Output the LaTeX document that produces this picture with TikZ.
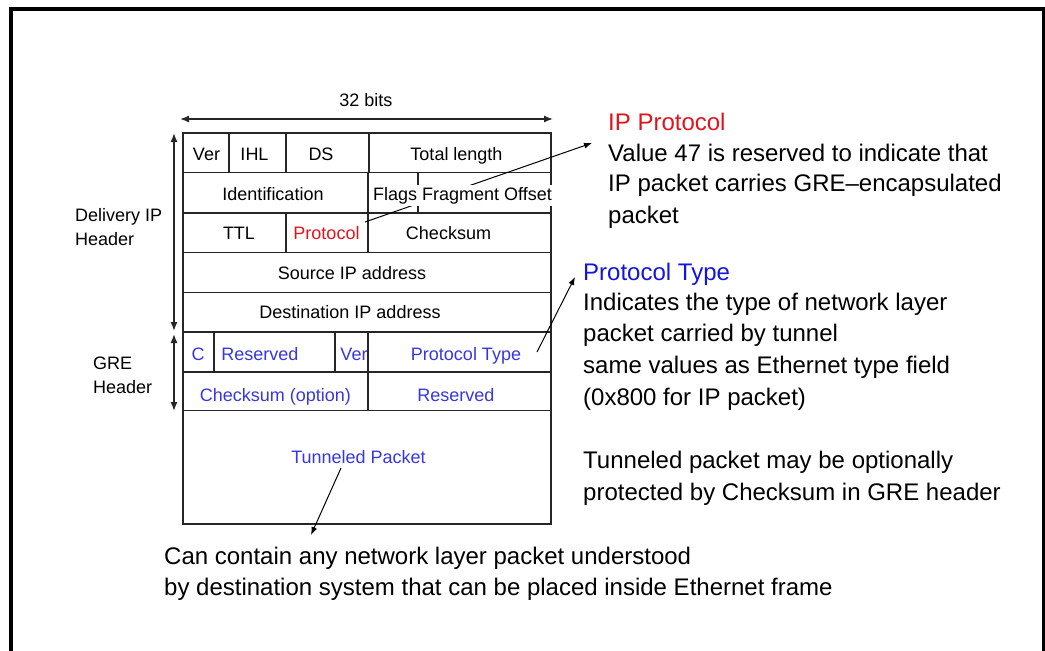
\documentclass[tikz,border=0pt]{standalone}
\usepackage{fontspec}
\setmainfont{Liberation Sans}
\usetikzlibrary{arrows.meta}
\definecolor{fblue}{RGB}{55,55,225}
\definecolor{hblue}{RGB}{20,20,225}
\definecolor{fred}{RGB}{225,20,30}
\begin{document}
\begin{tikzpicture}[x=1pt,y=-1pt,
  cell/.style={font=\fontsize{18}{22}\selectfont, inner sep=0pt, anchor=base},
  lab/.style={font=\fontsize{18}{22}\selectfont, inner sep=0pt, anchor=base west},
  note/.style={font=\fontsize{24}{31}\selectfont, inner sep=0pt, anchor=base west},
  grid/.style={line width=1.3pt, draw=black!85},
  thickgrid/.style={line width=2.6pt, draw=black!85},
  arr/.style={-{Latex[length=8pt,width=6pt]}, line width=1pt},
  darr/.style={{Latex[length=9pt,width=7pt]}-{Latex[length=9pt,width=7pt]}, line width=1.4pt, draw=black!85}]
\useasboundingbox (0,0) rectangle (1045,651);
\fill[white] (0,0) rectangle (1045,651);
% frame
\draw[line width=4.6pt] (10.8,651) -- (10.8,8.8) -- (1045,8.8);
\draw[line width=2.5pt] (1043.7,8.8) -- (1043.7,651);

% table outline and rows
\draw[grid] (183,133) rectangle (551,524);
\foreach \yy in {172.5,213,252.5,292.5,332,410.5}
  \draw[grid] (183,\yy) -- (551,\yy);
\draw[thickgrid] (183,372) -- (551,372);
% column separators
\foreach \xx in {229,286,369} \draw[grid] (\xx,133) -- (\xx,172.5);
\foreach \xx in {368,418} \draw[grid] (\xx,172.5) -- (\xx,213);
\foreach \xx in {286,368} \draw[grid] (\xx,213) -- (\xx,252.5);
\foreach \xx in {214,335,368} \draw[grid] (\xx,332) -- (\xx,372);
\draw[grid] (368,372) -- (368,410.5);

% width arrow
\coordinate (wl) at (180,119);
\coordinate (wr) at (553,119);
\draw[darr] (wl) -- (wr);
\node[cell] (bits) at (366,106.7) {32 bits};

% vertical arrows
\coordinate (dt) at (174,133);
\coordinate (db) at (174,331);
\coordinate (gt) at (174,334);
\coordinate (gb) at (174,411);
\draw[darr] (dt) -- (db);
\draw[darr] (gt) -- (gb);
\node[lab] (dl1) at (75,221.7) {Delivery IP};
\node[lab] (dl2) at (75,245) {Header};
\node[lab] (gl1) at (93,369.3) {GRE};
\node[lab] (gl2) at (93,393.3) {Header};

% IP protocol arrow (drawn before covering text)
\coordinate (pa0) at (365,222);
\coordinate (pa1) at (592,143);
\draw[arr] (pa0) -- (pa1);

% IP header cells
\node[cell] (ver) at (206.5,160) {Ver};
\node[cell] (ihl) at (254.5,160) {IHL};
\node[cell] (ds) at (321,160) {DS};
\node[cell] (tl) at (456.5,160) {Total length};
\node[cell] (ident) at (273,200) {Identification};
\node[cell, fill=white, inner ysep=2pt] (flags) at (462.5,200) {Flags Fragment Offset};
\node[cell] (ttl) at (239,239.3) {TTL};
\node[cell, text=fred] (proto) at (326.5,239.3) {Protocol};
\node[cell] (cks) at (448.5,239.3) {Checksum};
\node[cell] (src) at (352,279) {Source IP address};
\node[cell] (dst) at (350,318.3) {Destination IP address};

% GRE cells
\node[cell, text=fblue] (gc) at (198,360) {C};
\node[cell, text=fblue] (gres) at (260,360) {Reserved};
\node[cell, text=fblue] (gver) at (354,360) {Ver};
\node[cell, text=fblue] (gpt) at (466,360) {Protocol Type};
\node[cell, text=fblue] (gcks) at (275.5,401.7) {Checksum (option)};
\node[cell, text=fblue] (gres2) at (456,401.7) {Reserved};
\node[cell, text=fblue] (tun) at (358.5,463.3) {Tunneled Packet};

% other arrows
\coordinate (pt0) at (537,352);
\coordinate (pt1) at (575,277);
\draw[arr] (pt0) -- (pt1);
\coordinate (tp0) at (341,468);
\coordinate (tp1) at (311,535);
\draw[arr] (tp0) -- (tp1);

% right notes
\node[note, text=fred] (n1) at (608,130.7) {IP Protocol};
\node[note] (n2) at (608,161.7) {Value 47 is reserved to indicate that};
\node[note] (n3) at (608,191.7) {IP packet carries GRE--encapsulated};
\node[note] (n4) at (608,223) {packet};
\node[note, text=hblue] (m1) at (583,280) {Protocol Type};
\node[note] (m2) at (583,310) {Indicates the type of network layer};
\node[note] (m3) at (583,341.7) {packet carried by tunnel};
\node[note] (m4) at (583,373.3) {same values as Ethernet type field};
\node[note] (m5) at (583,405) {(0x800 for IP packet)};
\node[note] (t1) at (583,468.3) {Tunneled packet may be optionally};
\node[note] (t2) at (583,500) {protected by Checksum in GRE header};
\node[note] (b1) at (164,564.3) {Can contain any network layer packet understood};
\node[note] (b2) at (164,595.7) {by destination system that can be placed inside Ethernet frame};
\end{tikzpicture}
\end{document}
